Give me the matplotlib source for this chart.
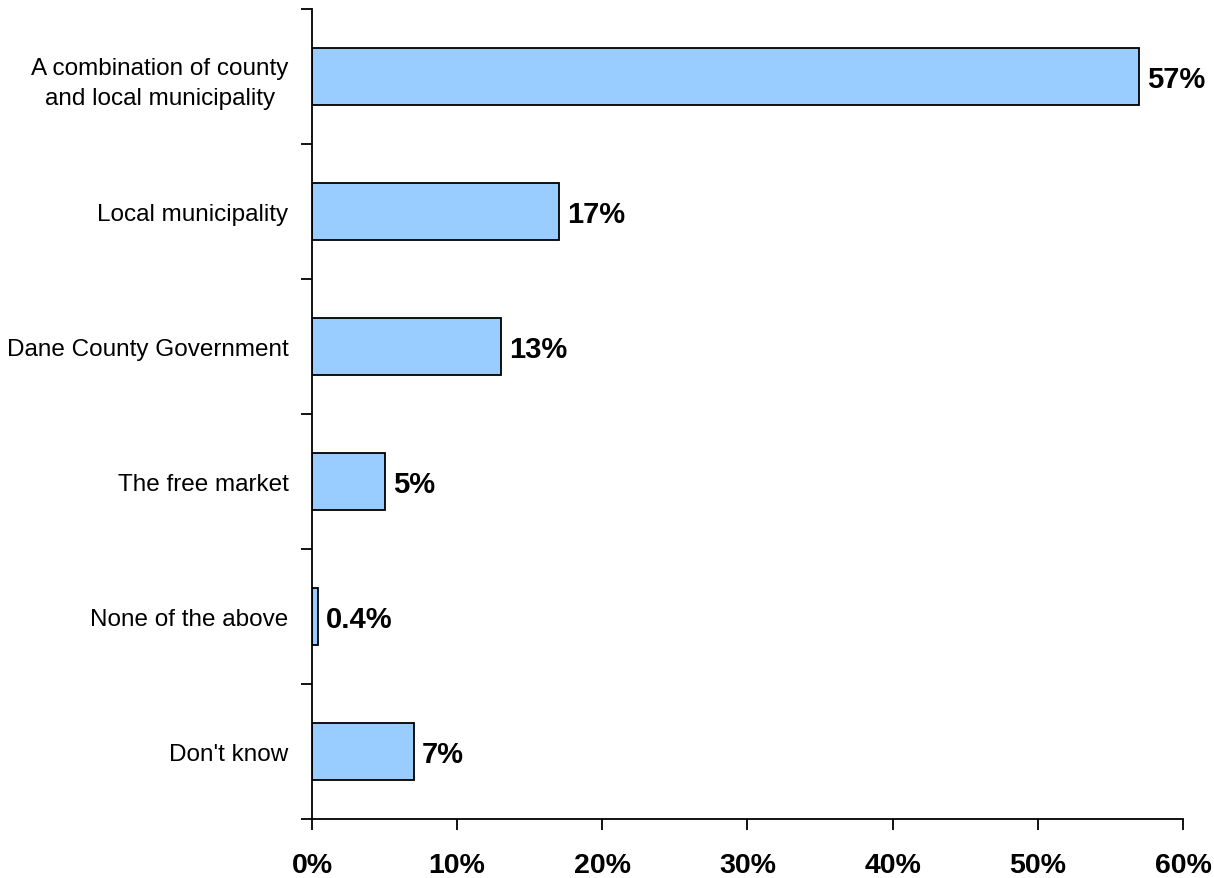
import matplotlib
matplotlib.use("Agg")
import matplotlib.pyplot as plt
from matplotlib.ticker import MultipleLocator, FuncFormatter, FixedLocator

categories = ["A combination of county\nand local municipality", "Local municipality",
              "Dane County Government", "The free market", "None of the above", "Don't know"]
values = [57, 17, 13, 5, 0.4, 7]
value_labels = ["57%", "17%", "13%", "5%", "0.4%", "7%"]

plt.rcParams["font.family"] = ["Liberation Sans", "DejaVu Sans"]

fig = plt.figure(figsize=(12.14, 8.79), dpi=100)
ax = fig.add_axes([312/1214, 1 - 820/879, (1183-312)/1214, (820-10)/879])

ypos = list(range(len(categories)))[::-1]
ax.barh(ypos, values, height=0.42, color="#99CCFF", edgecolor="black", linewidth=1.3)
for y, v, lab in zip(ypos, values, value_labels):
    ax.text(v + 0.55, y - 0.02, lab, ha="left", va="center", fontsize=21, fontweight="bold")

ax.set_xlim(0, 60)
ax.set_ylim(-0.5, len(categories) - 0.5)
ax.xaxis.set_major_locator(MultipleLocator(10))
ax.xaxis.set_major_formatter(FuncFormatter(lambda x, p: f"{x:.0f}%"))
ax.set_yticks(ypos)
ax.set_yticklabels(categories, fontsize=17.5, linespacing=1.45, multialignment="center")
ax.yaxis.set_minor_locator(FixedLocator([i - 0.5 for i in range(len(categories) + 1)]))
ax.tick_params(axis="y", which="major", length=0, pad=17)
ax.tick_params(axis="y", which="minor", length=8, width=1.3, direction="out")
ax.tick_params(axis="x", length=8, width=1.3, direction="out", pad=15.5, labelsize=20.5)
for t in ax.get_xticklabels():
    t.set_fontweight("bold")

for s in ["top", "right"]:
    ax.spines[s].set_visible(False)
for s in ["left", "bottom"]:
    ax.spines[s].set_linewidth(1.3)

fig.savefig("out.png", dpi=100, facecolor="white")
